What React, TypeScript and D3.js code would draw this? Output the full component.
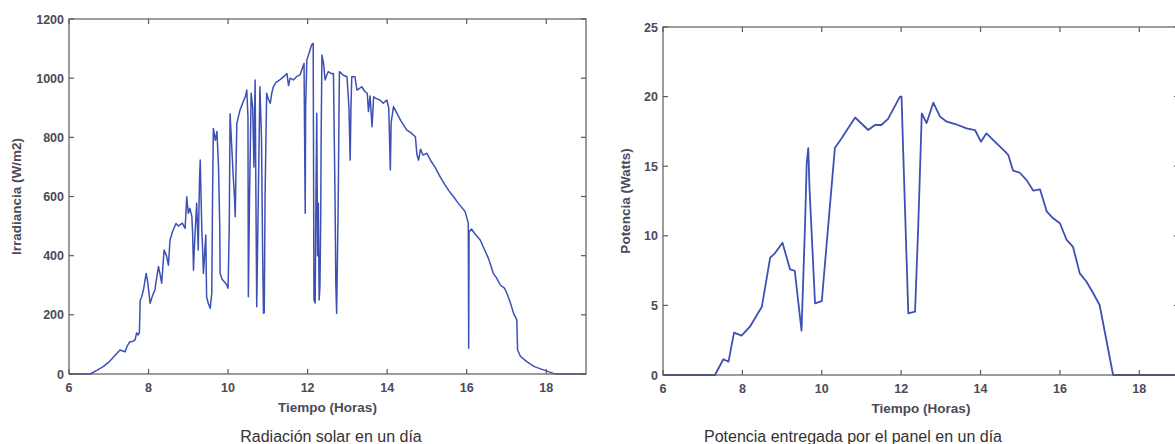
import React from "react";
import * as d3 from "d3";

// ---- Left chart: irradiance (W/m2) vs hour ----
const irrHours = [
  6.0, 6.5, 6.53, 6.7, 6.86, 7.0, 7.15, 7.28, 7.35, 7.41, 7.47, 7.53, 7.6, 7.66, 7.7, 7.74, 7.77, 7.79, 7.83, 7.88,
  7.94, 7.98, 8.04, 8.1, 8.16, 8.21, 8.25, 8.3, 8.33, 8.37, 8.39, 8.45, 8.5, 8.54, 8.6, 8.69, 8.75, 8.79, 8.85, 8.92,
  8.96, 9.0, 9.04, 9.09, 9.11, 9.13, 9.15, 9.17, 9.21, 9.23, 9.25, 9.28, 9.3, 9.32, 9.34, 9.36, 9.38, 9.4, 9.42, 9.44,
  9.46, 9.5, 9.55, 9.59, 9.61, 9.63, 9.68, 9.72, 9.76, 9.79, 9.8, 9.85, 9.95, 10.0, 10.03, 10.05, 10.08, 10.13, 10.16, 10.18,
  10.2, 10.22, 10.26, 10.3, 10.38, 10.44, 10.47, 10.5, 10.51, 10.54, 10.58, 10.62, 10.65, 10.68, 10.7, 10.72, 10.75, 10.8, 10.84, 10.87,
  10.89, 10.91, 10.93, 10.97, 11.01, 11.06, 11.1, 11.14, 11.2, 11.3, 11.4, 11.48, 11.52, 11.56, 11.64, 11.72, 11.81, 11.85, 11.91, 11.93,
  11.94, 11.95, 11.98, 12.05, 12.1, 12.14, 12.16, 12.19, 12.21, 12.23, 12.25, 12.27, 12.29, 12.31, 12.33, 12.34, 12.36, 12.4, 12.44, 12.48,
  12.52, 12.6, 12.65, 12.67, 12.69, 12.71, 12.73, 12.75, 12.77, 12.79, 12.8, 12.9, 12.99, 13.04, 13.07, 13.09, 13.11, 13.19, 13.24, 13.3,
  13.36, 13.44, 13.5, 13.53, 13.57, 13.62, 13.66, 13.74, 13.82, 13.9, 13.99, 14.04, 14.08, 14.1, 14.16, 14.25, 14.35, 14.49, 14.6, 14.71,
  14.75, 14.79, 14.84, 14.9, 15.0, 15.1, 15.2, 15.33, 15.45, 15.55, 15.67, 15.8, 15.96, 16.02, 16.04, 16.05, 16.06, 16.12, 16.2, 16.34,
  16.45, 16.55, 16.67, 16.75, 16.85, 16.95, 17.01, 17.1, 17.18, 17.26, 17.28, 17.35, 17.51, 17.7, 17.93, 18.18, 18.3, 19.0,
];
const irrValues = [
  0, 0, 0, 12, 25, 40, 62, 81, 78, 75, 96, 109, 110, 115, 139, 132, 140, 250, 261, 290,
  340, 310, 239, 265, 284, 330, 363, 330, 307, 380, 419, 400, 368, 453, 480, 509, 500, 504, 510, 492,
  599, 543, 560, 532, 470, 351, 420, 476, 577, 500, 419, 650, 723, 600, 487, 420, 340, 380, 430, 470,
  261, 240, 222, 273, 600, 830, 790, 820, 700, 500, 340, 320, 305, 290, 500, 880, 800, 667, 600, 532,
  700, 847, 870, 892, 920, 940, 960, 870, 261, 600, 949, 900, 700, 994, 600, 227, 500, 971, 800, 400,
  205, 207, 600, 949, 930, 915, 950, 971, 985, 994, 1005, 1016, 975, 1000, 994, 1005, 1011, 1027, 1050, 700,
  543, 900, 1061, 1090, 1112, 1118, 250, 240, 600, 881, 400, 577, 250, 295, 532, 800, 1078, 1050, 994, 1010,
  1022, 1015, 1016, 800, 588, 300, 205, 400, 588, 900, 1022, 1010, 1005, 900, 723, 900, 1005, 1005, 960, 965,
  971, 955, 949, 887, 940, 836, 937, 930, 926, 915, 926, 900, 690, 850, 904, 880, 855, 825, 815, 802,
  740, 723, 760, 740, 746, 720, 700, 667, 640, 620, 599, 575, 549, 520, 509, 87, 480, 490, 475, 453,
  420, 390, 340, 325, 300, 290, 273, 240, 205, 183, 81, 60, 42, 25, 14, 2, 0, 0,
];

// ---- Right chart: power (W) vs hour ----
const powHours = [
  6.0, 7.31, 7.52, 7.65, 7.79, 7.98, 8.19, 8.49, 8.7, 8.82, 9.01, 9.2, 9.32, 9.49, 9.58, 9.62, 9.66, 9.69, 9.83, 10.0,
  10.33, 10.5, 10.75, 10.84, 11.17, 11.34, 11.5, 11.67, 11.97, 12.01, 12.05, 12.18, 12.35, 12.43, 12.52, 12.64, 12.81, 12.98, 13.15, 13.36,
  13.65, 13.86, 14.01, 14.15, 14.36, 14.62, 14.7, 14.82, 14.99, 15.16, 15.33, 15.5, 15.67, 15.83, 16.0, 16.17, 16.33, 16.5, 16.67, 16.84,
  17.0, 17.34, 19.0,
];
const powValues = [
  0, 0, 1.13, 0.96, 3.04, 2.83, 3.47, 4.9, 8.43, 8.74, 9.5, 7.59, 7.49, 3.18, 10.9, 15.2, 16.3, 13.5, 5.15, 5.3,
  16.3, 17.0, 18.1, 18.5, 17.6, 17.96, 17.96, 18.4, 20.0, 20.0, 16.2, 4.43, 4.55, 10.65, 18.8, 18.1, 19.56, 18.56, 18.2, 18.03,
  17.72, 17.6, 16.76, 17.36, 16.76, 16.04, 15.8, 14.68, 14.53, 14.0, 13.24, 13.33, 11.73, 11.26, 10.9, 9.7, 9.2, 7.3, 6.7, 5.87,
  5.03, 0, 0,
];

const xTicks = [6, 8, 10, 12, 14, 16, 18];
const irrTicks = [0, 200, 400, 600, 800, 1000, 1200];
const powTicks = [0, 5, 10, 15, 20, 25];

const LINE = "#3d50b4";
const AXIS = "#5a5a5a";
const TXT = "#4a4a58";
const FONT = "'Liberation Sans', Arial, sans-serif";

type PanelProps = {
  left: number; right: number; top: number; bottom: number;
  hours: number[]; values: number[]; yMax: number; yTicks: number[];
  yLabel: string; caption: string; captionX: number; strokeW: number; yLabelX: number;
};

function Panel(p: PanelProps) {
  const x = d3.scaleLinear().domain([6, 19]).range([p.left, p.right]);
  const y = d3.scaleLinear().domain([0, p.yMax]).range([p.bottom, p.top]);
  const pts: [number, number][] = p.hours.map((h, i) => [h, p.values[i]]);
  const line = d3.line<[number, number]>().x((d) => x(d[0])).y((d) => y(d[1]));
  const tl = 5;
  const cx = (p.left + p.right) / 2;
  const cy = (p.top + p.bottom) / 2;
  return (
    <g>
      <path d={line(pts) || ""} fill="none" stroke={LINE} strokeWidth={p.strokeW} strokeLinejoin="round" />
      <rect x={p.left} y={p.top} width={p.right - p.left} height={p.bottom - p.top} fill="none" stroke={AXIS} strokeWidth={1.2} />
      {xTicks.map((t) => (
        <g key={"x" + t}>
          <line x1={x(t)} x2={x(t)} y1={p.bottom} y2={p.bottom - tl} stroke={AXIS} strokeWidth={1.2} />
          <line x1={x(t)} x2={x(t)} y1={p.top} y2={p.top + tl} stroke={AXIS} strokeWidth={1.2} />
          <text x={x(t)} y={p.bottom + 18} textAnchor="middle" fontSize={12.5} fontWeight="bold" fill={TXT} fontFamily={FONT}>{t}</text>
        </g>
      ))}
      {p.yTicks.map((t) => (
        <g key={"y" + t}>
          <line x1={p.left} x2={p.left + tl} y1={y(t)} y2={y(t)} stroke={AXIS} strokeWidth={1.2} />
          <line x1={p.right} x2={p.right - tl} y1={y(t)} y2={y(t)} stroke={AXIS} strokeWidth={1.2} />
          <text x={p.left - 5} y={y(t) + 4.5} textAnchor="end" fontSize={12.5} fontWeight="bold" fill={TXT} fontFamily={FONT}>{t}</text>
        </g>
      ))}
      <text x={cx} y={p.bottom + 38} textAnchor="middle" fontSize={13.5} fontWeight="bold" fill={TXT} fontFamily={FONT}>Tiempo (Horas)</text>
      <text transform={`translate(${p.yLabelX},${cy}) rotate(-90)`} textAnchor="middle" fontSize={13.5} fontWeight="bold" fill={TXT} fontFamily={FONT}>{p.yLabel}</text>
      <text x={p.captionX} y={442} textAnchor="middle" fontSize={16} fill="#333" fontFamily={FONT}>{p.caption}</text>
    </g>
  );
}

export default function App() {
  return (
    <svg width={1175} height={444} style={{ position: "absolute", left: 0, top: 0, background: "#fff" }}>
      <rect width={1175} height={444} fill="#fff" />
      <Panel left={69} right={586} top={19} bottom={374} hours={irrHours} values={irrValues} yMax={1200} yTicks={irrTicks}
        yLabel="Irradiancia (W/m2)" caption="Radiación solar en un día" captionX={331} strokeW={1.5} yLabelX={21} />
      <Panel left={663} right={1179} top={27} bottom={375} hours={powHours} values={powValues} yMax={25} yTicks={powTicks}
        yLabel="Potencia (Watts)" caption="Potencia entregada por el panel en un día" captionX={853} strokeW={1.8} yLabelX={630} />
    </svg>
  );
}
